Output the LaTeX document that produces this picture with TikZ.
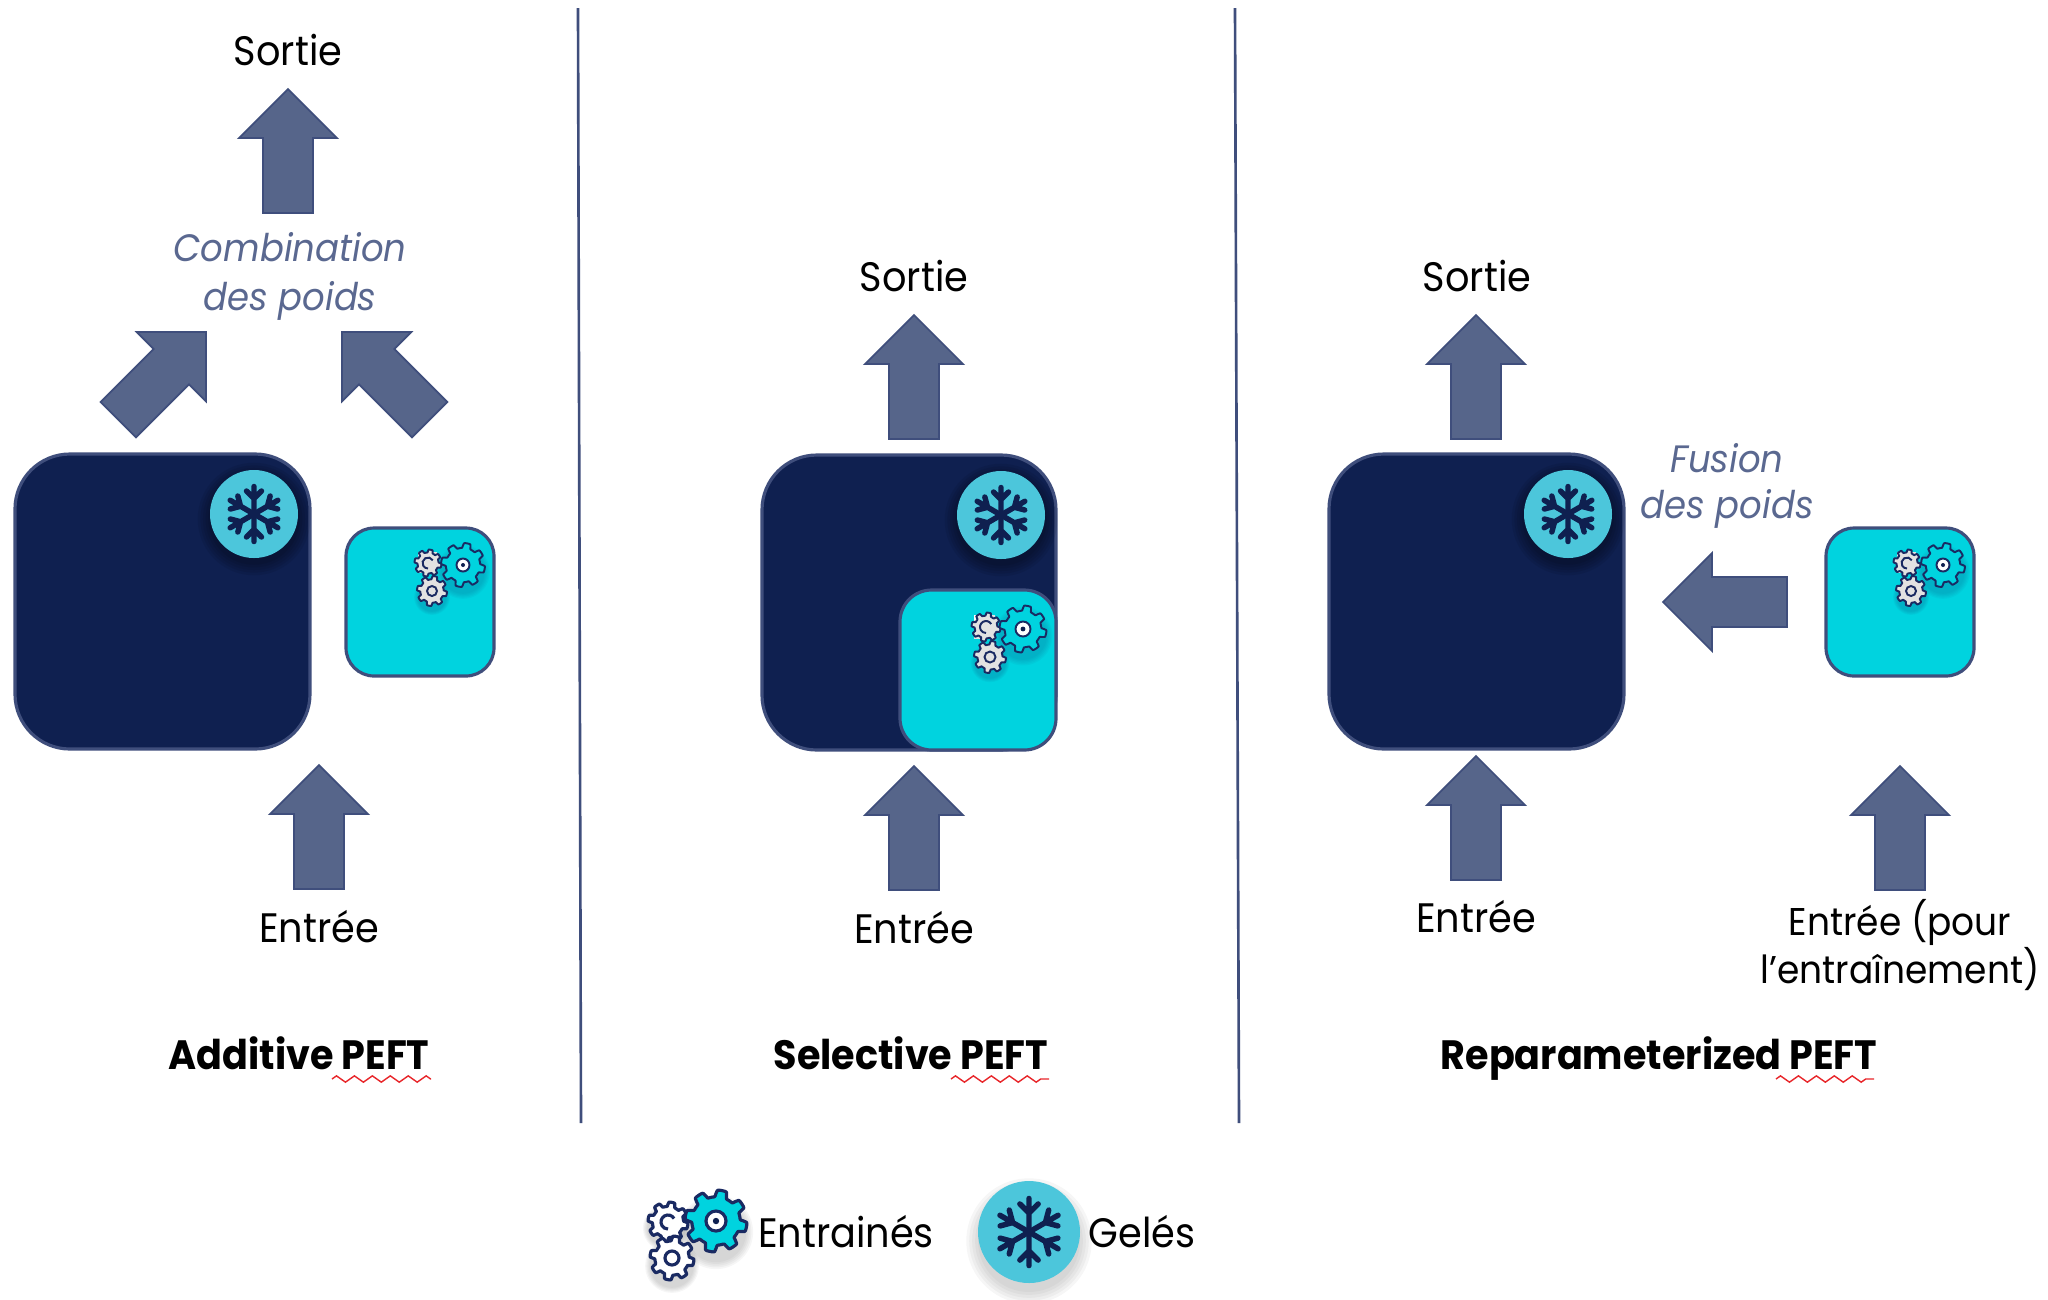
\documentclass[tikz,border=0pt]{standalone}
\usepackage{fontspec}
\setmainfont{Poppins}[FakeStretch=0.93]
\usetikzlibrary{decorations.pathmorphing}
\definecolor{navy}{HTML}{0F2050}
\definecolor{edge}{HTML}{3F4E7C}
\definecolor{arrowfill}{HTML}{56658A}
\definecolor{aqua}{HTML}{00D3DF}
\definecolor{ice}{HTML}{4CC6DB}
\definecolor{gearline}{HTML}{1A2A62}
\definecolor{geargrey}{HTML}{E2E2E2}
\definecolor{muted}{HTML}{5A6890}
\definecolor{squiggle}{HTML}{E8262A}
\tikzset{
  bigbox/.style={fill=navy,draw=edge,line width=0.9pt,rounded corners=15.6pt},
  smallbox/.style={fill=aqua,draw=edge,line width=0.9pt,rounded corners=8pt},
  insetbox/.style={fill=aqua,draw=edge,line width=0.9pt,rounded corners=9pt},
  divider/.style={draw=edge,line width=0.75pt},
  label/.style={font=\fontsize{11.7}{14}\selectfont,text=black,inner sep=0pt},
  labelsmall/.style={font=\fontsize{11.0}{14}\selectfont,text=black,inner sep=0pt},
  note/.style={font=\fontsize{10.85}{14}\selectfont\itshape,text=muted,inner sep=0pt},
  heading/.style={font=\fontsize{11.65}{14}\selectfont\bfseries,text=black,inner sep=0pt,anchor=base},
  wavy/.style={draw=squiggle,line width=0.4pt,decorate,decoration={zigzag,segment length=5.1pt,amplitude=0.9pt}},
  pics/blockarrow/.style={code={
    \draw[fill=arrowfill,draw=edge,line width=0.5pt,line join=miter]
      (0,0)--(49,49)--(25,49)--(25,124)--(-25,124)--(-25,49)--(-49,49)--cycle;}}
}
\newcommand{\softshadow}[5]{% x y rx ry colour
  \foreach \k in {1.28,1.22,1.16,1.1,1.04}{
    \fill[#5,opacity=0.07] (#1,#2) ellipse[x radius=#3*\k,y radius=#4*\k];}}
\newcommand{\snowflake}[4]{% x y xscale yscale
  \begin{scope}[shift={(#1,#2)},xscale=#3,yscale=#4]
    \foreach \a in {0,60,...,300}{
      \draw[navy,line width=1.55pt,line cap=round,line join=round,rotate=\a]
        (0,0)--(0,-27.5) (-7.5,-23)--(0,-15.5)--(7.5,-23);}
  \end{scope}}
\def\gw{0.55pt}
\newcommand{\gearbody}[4]{% x y r fill
  \draw[fill=#4,draw=gearline,line width=\gw,line join=round]
    plot[domain=0:360,samples=145,variable=\t] ([shift={(#1,#2)}]\t:{#3*(0.89+0.11*max(-1,min(1,2.6*sin(8*\t))))})--cycle;}
\newcommand{\gearicon}[6]{% x y r fill hole-fill hole-radius
  \gearbody{#1}{#2}{#3}{#4}
  \draw[fill=#5,draw=gearline,line width=\gw] (#1,#2) circle[radius=#6];}
\newcommand{\gearopen}[5]{% x y r fill arc-radius
  \gearbody{#1}{#2}{#3}{#4}
  \draw[gearline,line width=\gw] ([shift={(#1,#2)}]-30:#5) arc[start angle=-30,end angle=-270,radius=#5];}
\begin{document}
\begin{tikzpicture}[x=0.01cm,y=-0.01cm]
\useasboundingbox (0,0) rectangle (2048,1299);
\fill[white] (0,0) rectangle (2048,1299);

% dividers
\coordinate (d1a) at (578,8); \coordinate (d1b) at (581,1123);
\coordinate (d2a) at (1235,8); \coordinate (d2b) at (1239,1123);
\draw[divider] (d1a)--(d1b);
\draw[divider] (d2a)--(d2b);

% Panel 1
\node[label] (s1) at (288,50) {Sortie};
\pic at (288,89) {blockarrow};
\node[note] (c1) at (290,247) {Combination};
\node[note] (c2) at (290,301) {des poids};
\pic[rotate=-45] at (206,332) {blockarrow};
\pic[rotate=45] at (342,332) {blockarrow};
\draw[bigbox] (15,454) rectangle (310,749);
\softshadow{254}{519}{44}{44}{black}
\fill[ice] (254,514) circle[radius=44];
\snowflake{254}{514}{1}{1}
\draw[smallbox] (346,528) rectangle (494,676);
\softshadow{463}{572}{21}{21}{gearline!60!aqua}
\softshadow{432}{597}{14}{14}{gearline!60!aqua}
\fill[geargrey] (417.5,551.5) rectangle (436.5,573);
\fill[white] (417.5,551.5) rectangle (421.5,556);
\gearopen{428}{563}{13.5}{geargrey}{5.5}
\gearicon{432}{591}{15}{geargrey}{geargrey}{5}
\gearicon{463}{565}{22}{aqua}{white}{6.5}
\fill[navy] (463,565) circle[radius=2];
\pic at (319,765) {blockarrow};
\node[label] (e1) at (319,927) {Entrée};
\node[heading] (t1) at (299,1069) {Additive PEFT};
\coordinate (w1a) at (332,1079); \coordinate (w1b) at (431,1079);
\draw[wavy] (w1a)--(w1b);

% Panel 2
\node[label] (s2) at (914,276) {Sortie};
\pic at (914,315) {blockarrow};
\draw[bigbox] (762,455) rectangle (1056,750);
\softshadow{1001}{520}{44}{44}{black}
\fill[ice] (1001,515) circle[radius=44];
\snowflake{1001}{515}{1}{1}
\draw[insetbox] (900,590) rectangle (1056,750);
\softshadow{1023}{636}{23}{23}{gearline!60!aqua}
\softshadow{990}{663}{15}{15}{gearline!60!aqua}
\fill[geargrey] (974,615) rectangle (995,639);
\fill[white] (974,615) rectangle (978,620);
\gearopen{986}{627}{14.5}{geargrey}{6}
\gearicon{990}{657}{16}{geargrey}{geargrey}{5.5}
\gearicon{1023}{629}{23.5}{aqua}{white}{7.5}
\fill[navy] (1023,629) circle[radius=2.4];
\pic at (914,766) {blockarrow};
\node[label] (e2) at (914,928) {Entrée};
\node[heading] (t2) at (911,1069) {Selective PEFT};
\coordinate (w2a) at (951,1079); \coordinate (w2b) at (1049,1079);
\draw[wavy] (w2a)--(w2b);

% Panel 3
\node[label] (s3) at (1477,276) {Sortie};
\pic at (1476,315) {blockarrow};
\draw[bigbox] (1329,454) rectangle (1624,749);
\softshadow{1568}{519}{44}{44}{black}
\fill[ice] (1568,514) circle[radius=44];
\snowflake{1568}{514}{1}{1}
\node[note] (f1) at (1727,458) {Fusion};
\node[note] (f2) at (1727,509) {des poids};
\pic[rotate=90] at (1663,602) {blockarrow};
\draw[smallbox] (1826,528) rectangle (1974,676);
\softshadow{1943}{572}{21}{21}{gearline!60!aqua}
\softshadow{1911}{597}{14}{14}{gearline!60!aqua}
\fill[geargrey] (1897,551.5) rectangle (1916,573);
\fill[white] (1897,551.5) rectangle (1901,556);
\gearopen{1907}{563}{13.5}{geargrey}{5.5}
\gearicon{1911}{591}{15}{geargrey}{geargrey}{5}
\gearicon{1943}{565}{22}{aqua}{white}{6.5}
\fill[navy] (1943,565) circle[radius=2];
\pic at (1476,756) {blockarrow};
\node[label] (e3) at (1476,917) {Entrée};
\pic at (1900,766) {blockarrow};
\node[labelsmall] (e4) at (1900,922) {Entrée (pour};
\node[labelsmall] (e5) at (1900,969) {l’entraînement)};
\node[heading] (t3) at (1659,1069) {Reparameterized PEFT};
\coordinate (w3a) at (1776,1079); \coordinate (w3b) at (1874,1079);
\draw[wavy] (w3a)--(w3b);

% Legend
\softshadow{716}{1232}{29}{29}{gray}
\softshadow{672}{1266}{21}{21}{gray}
\softshadow{666}{1228}{18}{18}{gray}
\def\gw{0.9pt}
\gearopen{668}{1222}{20}{white}{7}
\gearicon{672}{1258}{22}{white}{white}{7}
\gearicon{716}{1221}{31}{aqua}{white}{10}
\fill[navy] (716,1221) circle[radius=3.2];
\node[label] (l1) at (846,1232) {Entrainés};
\softshadow{1029}{1241}{49}{49}{gray}
\fill[ice] (1029,1232) circle[radius=51];
\snowflake{1029}{1232}{1.22}{1.22}
\node[label] (l2) at (1142,1232) {Gelés};
\end{tikzpicture}
\end{document}
